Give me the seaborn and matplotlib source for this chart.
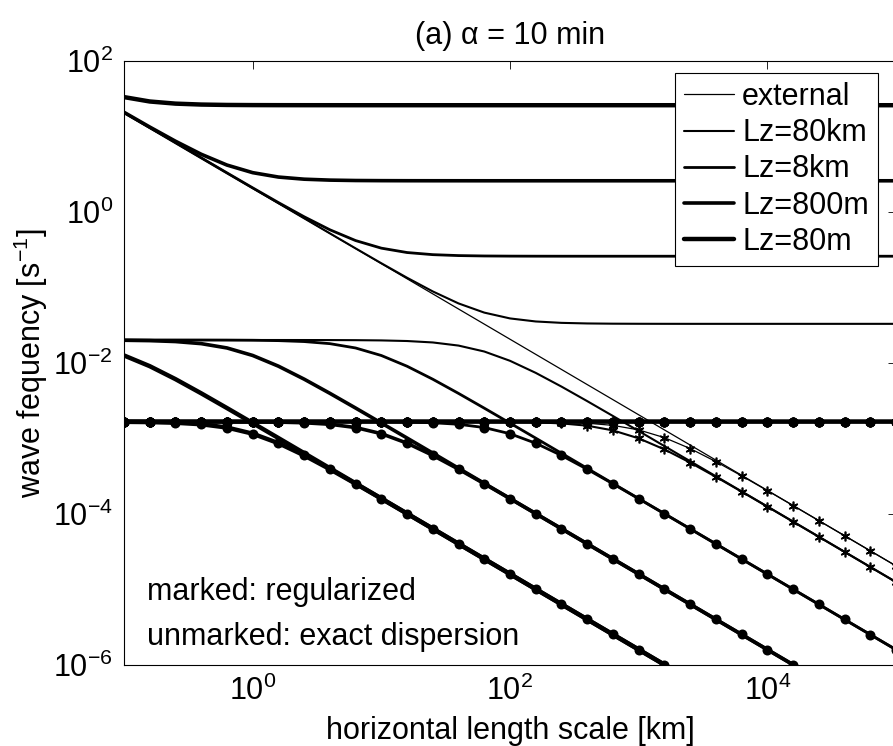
import matplotlib
matplotlib.use('Agg')
import matplotlib.pyplot as plt
import seaborn as sns
import pandas as pd

# horizontal length scale [km], sampled every 0.2 decade (marker spacing)
length_km = [0.1, 0.1585, 0.2512, 0.3981, 0.631, 1.0, 1.585, 2.512, 3.981, 6.31,
             10.0, 15.85, 25.12, 39.81, 63.1, 100.0, 158.5, 251.2, 398.1, 631.0,
             1000.0, 1585.0, 2512.0, 3981.0, 6310.0, 1e4, 1.585e4, 2.512e4, 3.981e4, 6.31e4, 1e5]

# wave frequency [1/s], exact dispersion
external = [20.48, 12.92, 8.153, 5.144, 3.246, 2.048, 1.292, 0.8153, 0.5144, 0.3246,
            0.2048, 0.1292, 0.08153, 0.05144, 0.03246, 0.02048, 0.01292, 8.153e-3, 5.144e-3, 3.246e-3,
            2.048e-3, 1.292e-3, 8.153e-4, 5.144e-4, 3.246e-4, 2.048e-4, 1.292e-4, 8.153e-5, 5.144e-5, 3.246e-5,
            2.048e-5]
acoustic_80km = [20.48, 12.92, 8.153, 5.144, 3.246, 2.048, 1.292, 0.816, 0.5155, 0.3262,
                 0.2074, 0.1333, 0.08785, 0.06097, 0.04609, 0.0386, 0.03518, 0.03372, 0.03312, 0.03288,
                 0.03279, 0.03275, 0.03273, 0.03273, 0.03273, 0.03273, 0.03273, 0.03273, 0.03273, 0.03273,
                 0.03273]
gravity_80km = [0.02, 0.02, 0.02, 0.02, 0.019999, 0.019997, 0.019994, 0.019984, 0.01996, 0.019899,
                0.01975, 0.019388, 0.018561, 0.016875, 0.014084, 0.010611, 0.007346, 0.004836, 0.003106, 1.974e-3,
                1.2495e-3, 7.892e-4, 4.982e-4, 3.144e-4, 1.984e-4, 1.252e-4, 7.898e-5, 4.983e-5, 3.144e-5, 1.984e-5,
                1.252e-5]
acoustic_8km = [20.49, 12.92, 8.157, 5.151, 3.256, 2.064, 1.317, 0.8548, 0.575, 0.4139,
                0.3285, 0.2875, 0.2695, 0.262, 0.2589, 0.2577, 0.2572, 0.257, 0.2569, 0.2569,
                0.2569, 0.2569, 0.2569, 0.2569, 0.2569, 0.2569, 0.2569, 0.2569, 0.2569, 0.2569,
                0.2569]
gravity_8km = [0.02, 0.02, 0.01999, 0.01998, 0.01994, 0.019844, 0.019618, 0.019075, 0.017894, 0.015683,
               0.012469, 0.008989, 0.006051, 0.003928, 0.002507, 1.59e-3, 1.005e-3, 6.345e-4, 4.006e-4, 2.527e-4,
               1.595e-4, 1.006e-4, 6.349e-5, 4.006e-5, 2.527e-5, 1.595e-5, 1.006e-5, 6.349e-6, 4.006e-6, 2.527e-6,
               1.595e-6]
acoustic_800m = [20.64, 13.17, 8.546, 5.746, 4.134, 3.279, 2.868, 2.687, 2.612, 2.581,
                 2.569, 2.564, 2.562, 2.561, 2.56, 2.56, 2.56, 2.56, 2.56, 2.56,
                 2.56, 2.56, 2.56, 2.56, 2.56, 2.56, 2.56, 2.56, 2.56, 2.56,
                 2.56]
gravity_800m = [0.019845, 0.01962, 0.019081, 0.017904, 0.015701, 0.012492, 0.009011, 0.006068, 0.003939, 0.002515,
                1.5947e-3, 1.008e-3, 6.365e-4, 4.017e-4, 2.535e-4, 1.6e-4, 1.009e-4, 6.369e-5, 4.018e-5, 2.535e-5,
                1.6e-5, 1.009e-5, 6.369e-6, 4.018e-6, 2.535e-6, 1.6e-6, 1.009e-6, 6.369e-7, 4.018e-7, 2.535e-7,
                1.6e-7]
acoustic_80m = [32.79, 28.68, 26.87, 26.12, 25.81, 25.69, 25.64, 25.62, 25.61, 25.6,
                25.6, 25.6, 25.6, 25.6, 25.6, 25.6, 25.6, 25.6, 25.6, 25.6,
                25.6, 25.6, 25.6, 25.6, 25.6, 25.6, 25.6, 25.6, 25.6, 25.6,
                25.6]
gravity_80m = [0.012494, 0.009011, 0.006068, 0.00394, 0.002515, 0.001595, 1.008e-3, 6.365e-4, 4.018e-4, 2.535e-4,
               1.6e-4, 1.009e-4, 6.369e-5, 4.018e-5, 2.535e-5, 1.6e-5, 1.009e-5, 6.369e-6, 4.018e-6, 2.535e-6,
               1.6e-6, 1.009e-6, 6.369e-7, 4.018e-7, 2.535e-7, 1.6e-7, 1.009e-7, 6.369e-8, 4.018e-8, 2.535e-8,
               1.6e-8]

# regularized (alpha = 10 min)
reg_acoustic = [1.666e-3, 1.666e-3, 1.666e-3, 1.666e-3, 1.666e-3, 1.666e-3, 1.666e-3, 1.666e-3, 1.666e-3, 1.666e-3,
                1.666e-3, 1.666e-3, 1.666e-3, 1.666e-3, 1.666e-3, 1.665e-3, 1.665e-3, 1.665e-3, 1.665e-3, 1.665e-3,
                1.665e-3, 1.665e-3, 1.665e-3, 1.665e-3, 1.665e-3, 1.665e-3, 1.665e-3, 1.665e-3, 1.665e-3, 1.665e-3,
                1.665e-3]
external_reg = [1.666e-3, 1.666e-3, 1.666e-3, 1.666e-3, 1.666e-3, 1.666e-3, 1.666e-3, 1.666e-3, 1.666e-3, 1.666e-3,
                1.666e-3, 1.666e-3, 1.666e-3, 1.665e-3, 1.665e-3, 1.661e-3, 1.653e-3, 1.633e-3, 1.585e-3, 1.483e-3,
                1.293e-3, 1.021e-3, 7.325e-4, 4.915e-4, 3.186e-4, 2.033e-4, 1.288e-4, 8.14e-5, 5.14e-5, 3.245e-5,
                2.048e-5]
gravity_80km_reg = [1.661e-3, 1.661e-3, 1.661e-3, 1.661e-3, 1.661e-3, 1.661e-3, 1.661e-3, 1.661e-3, 1.661e-3, 1.661e-3,
                    1.661e-3, 1.66e-3, 1.66e-3, 1.659e-3, 1.655e-3, 1.646e-3, 1.625e-3, 1.576e-3, 1.469e-3, 1.273e-3,
                    9.997e-4, 7.133e-4, 4.773e-4, 3.09e-4, 1.97e-4, 1.248e-4, 7.889e-5, 4.981e-5, 3.144e-5, 1.984e-5,
                    1.252e-5]
gravity_8km_reg = [1.661e-3, 1.661e-3, 1.661e-3, 1.661e-3, 1.661e-3, 1.661e-3, 1.661e-3, 1.66e-3, 1.66e-3, 1.657e-3,
                   1.652e-3, 1.639e-3, 1.607e-3, 1.534e-3, 1.388e-3, 1.15e-3, 8.606e-4, 5.93e-4, 3.895e-4, 2.499e-4,
                   1.588e-4, 1.004e-4, 6.344e-5, 4.005e-5, 2.527e-5, 1.595e-5, 1.006e-5, 6.349e-6, 4.006e-6, 2.527e-6,
                   1.595e-6]
gravity_800m_reg = [1.661e-3, 1.661e-3, 1.66e-3, 1.66e-3, 1.657e-3, 1.652e-3, 1.639e-3, 1.607e-3, 1.535e-3, 1.389e-3,
                    1.152e-3, 8.626e-4, 5.946e-4, 3.906e-4, 2.506e-4, 1.593e-4, 1.0076e-4, 6.364e-5, 4.017e-5, 2.535e-5,
                    1.6e-5, 1.009e-5, 6.369e-6, 4.018e-6, 2.535e-6, 1.6e-6, 1.009e-6, 6.369e-7, 4.018e-7, 2.535e-7,
                    1.6e-7]
gravity_80m_reg = [1.652e-3, 1.639e-3, 1.607e-3, 1.535e-3, 1.389e-3, 1.152e-3, 8.626e-4, 5.946e-4, 3.906e-4, 2.506e-4,
                   1.593e-4, 1.0076e-4, 6.364e-5, 4.017e-5, 2.535e-5, 1.6e-5, 1.009e-5, 6.369e-6, 4.018e-6, 2.535e-6,
                   1.6e-6, 1.009e-6, 6.369e-7, 4.018e-7, 2.535e-7, 1.6e-7, 1.009e-7, 6.369e-8, 4.018e-8, 2.535e-8,
                   1.6e-8]

labels = ['external', 'Lz=80km', 'Lz=8km', 'Lz=800m', 'Lz=80m']
exact = [[external], [acoustic_80km, gravity_80km], [acoustic_8km, gravity_8km],
         [acoustic_800m, gravity_800m], [acoustic_80m, gravity_80m]]
regular = [[external_reg], [reg_acoustic, gravity_80km_reg], [reg_acoustic, gravity_8km_reg],
           [reg_acoustic, gravity_800m_reg], [reg_acoustic, gravity_80m_reg]]
widths = [0.9, 1.5, 2.0, 2.6, 3.2]
asterisk = (6, 2, 0)
markers = [asterisk, asterisk, 'o', 'o', 'o']

sns.set_theme(style='white')
plt.rcParams['font.family'] = ['Liberation Sans', 'DejaVu Sans']
plt.rcParams['mathtext.fontset'] = 'custom'
plt.rcParams['mathtext.rm'] = 'Liberation Sans'
plt.rcParams['mathtext.it'] = 'Liberation Sans:italic'
plt.rcParams['mathtext.bf'] = 'Liberation Sans:bold'
plt.rcParams['text.color'] = 'black'
plt.rcParams['axes.labelcolor'] = 'black'
fs = 22

fig = plt.figure(figsize=(8.93, 7.46), dpi=100)
ax = fig.add_axes([124 / 893, 1 - 665 / 746, 772 / 893, 604.5 / 746])

handles = []
for lab, branches, lw in zip(labels, exact, widths):
    for i, y in enumerate(branches):
        df = pd.DataFrame({'L': length_km, 'w': y})
        sns.lineplot(data=df, x='L', y='w', ax=ax, color='black', lw=lw, legend=False)
        if i == 0:
            handles.append(ax.lines[-1])

# starred curves first so the dots of the thicker curves sit on top
for branches, lw, mk in zip(regular, widths, markers):
    for y in branches:
        df = pd.DataFrame({'L': length_km, 'w': y})
        if mk == 'o':
            sns.lineplot(data=df, x='L', y='w', ax=ax, color='black', lw=lw, legend=False,
                         marker='o', markersize=7.2, markeredgewidth=0, markerfacecolor='black')
        else:
            sns.lineplot(data=df, x='L', y='w', ax=ax, color='black', lw=lw, legend=False,
                         marker=mk, markersize=7, markeredgewidth=1.2, markeredgecolor='black')

ax.set_xscale('log')
ax.set_yscale('log')
ax.set_xlim(0.1, 1e5)
ax.set_ylim(1e-6, 1e2)
ax.set_xticks([1, 1e2, 1e4])
ax.set_yticks([1e-6, 1e-4, 1e-2, 1, 1e2])
ax.minorticks_off()
ax.tick_params(direction='in', top=True, right=True, length=6, width=0.6,
               labelsize=fs, pad=8, colors='black')
for s in ax.spines.values():
    s.set_visible(True)
    s.set_color('black')
    s.set_linewidth(0.8)

ax.set_xlabel('horizontal length scale [km]', fontsize=fs, labelpad=6)
ax.set_ylabel('wave fequency [s$^{-1}$]', fontsize=fs, labelpad=2)
ax.set_title('(a) \u03b1 = 10 min', fontsize=fs, pad=12)

ax.text(0.03, 0.1075, 'marked: regularized', transform=ax.transAxes, fontsize=fs, va='baseline')
ax.text(0.03, 0.033, 'unmarked: exact dispersion', transform=ax.transAxes, fontsize=fs, va='baseline')

leg = ax.legend(handles, labels, loc='upper right', bbox_to_anchor=(0.9767, 0.9793),
                borderaxespad=0, fontsize=fs, frameon=True, fancybox=False, framealpha=1,
                edgecolor='black', handlelength=1.65, handletextpad=0.25, labelspacing=0.2,
                borderpad=0.3)
leg.get_frame().set_linewidth(0.8)

fig.savefig('out.png', dpi=100)
